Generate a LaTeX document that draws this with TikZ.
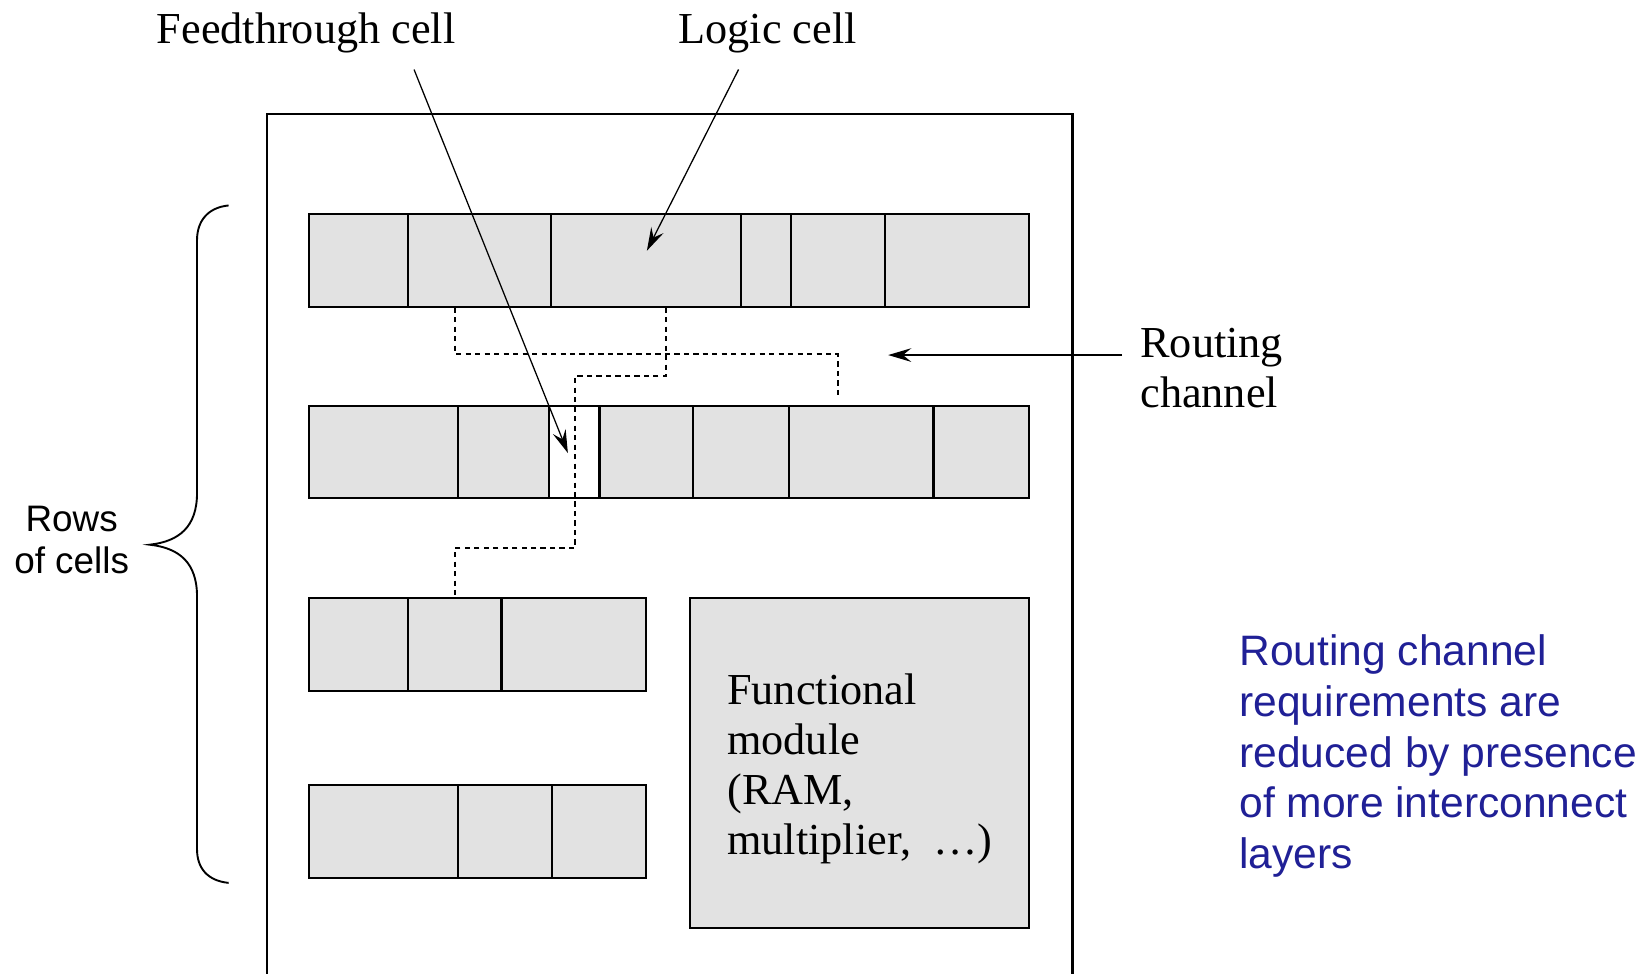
\documentclass[tikz,border=0pt]{standalone}
\usepackage{fontspec}
\setmainfont{Liberation Serif}
\setsansfont{Liberation Sans}
\usetikzlibrary{arrows.meta}
\definecolor{cellgray}{RGB}{226,226,226}
\definecolor{noteblue}{RGB}{32,32,150}
\begin{document}
\begin{tikzpicture}[x=0.5pt, y=-0.5pt,
  cell/.style = {draw, fill=cellgray, line width=1pt, inner sep=0pt, minimum height=44pt},
  wire/.style = {line width=0.9pt, dash pattern=on 2.5pt off 2pt},
  pointer/.style = {-{Stealth[length=11pt,width=6.5pt,inset=4pt]}, line width=0.6pt},
  caption/.style = {font=\fontsize{21}{23.75}\selectfont, inner sep=0pt, align=left},
  note/.style = {font=\sffamily\fontsize{20.2}{24.1}\selectfont, text=noteblue, align=left, inner sep=0pt}]
  \useasboundingbox (0,0) rectangle (1568,924);
  \draw[line width=1pt] (253,924) -- (253,108) -- (1018,108) -- (1018,924);
  \foreach \a/\b [count=\i] in {293/387,387/523,523/703,703/751,751/840,840/977}
    \node[cell, minimum width={(\b-\a)*0.5pt}] (r1c\i) at ({(\a+\b)/2},247) {};
  \foreach \a/\b/\c [count=\i] in {293/435/cellgray,435/521/cellgray,521/569/white,569/658/cellgray,658/749/cellgray,749/886/cellgray,886/977/cellgray}
    \node[cell, fill=\c, minimum width={(\b-\a)*0.5pt}] (r2c\i) at ({(\a+\b)/2},429) {};
  \foreach \a/\b [count=\i] in {293/387,387/476,476/613}
    \node[cell, minimum width={(\b-\a)*0.5pt}] (r3c\i) at ({(\a+\b)/2},612) {};
  \foreach \a/\b [count=\i] in {293/435,435/524,524/613}
    \node[cell, minimum width={(\b-\a)*0.5pt}] (r4c\i) at ({(\a+\b)/2},789) {};
  \node[cell, minimum width=161pt, minimum height=156.5pt, align=left,
        font=\fontsize{21}{23.75}\selectfont] (fmod) at (816,724.5)
        {\rule{0pt}{20pt}Functional\\module\\(RAM,\\multiplier, \ \ldots)};
  \coordinate (wireend) at (795,378);
  \draw[wire] (r1c2.south -| 432,0) |- (795,336) -- (wireend);
  \draw[wire] (r1c3.south -| 632,0) |- (546,357) |- (432,520) -- (r3c2.north -| 432,0);
  \node[caption, anchor=base] (feedlbl) at (290.5,41) {Feedthrough cell};
  \node[caption, anchor=base] (logiclbl) at (728.5,41) {Logic cell};
  \node[caption, anchor=north west] (routelbl) at (1082,311) {Routing\\channel};
  \coordinate (feedtail) at (393,66);
  \coordinate (feedtip) at (539,430);
  \coordinate (logictail) at (701,66);
  \coordinate (logictip) at (614,238);
  \coordinate (routetail) at (1065,337);
  \coordinate (routetip) at (843,337);
  \draw[pointer] (feedtail) -- (feedtip);
  \draw[pointer] (logictail) -- (logictip);
  \draw[pointer] (routetail) -- (routetip);
  \draw[line width=0.9pt] (217,195) .. controls (197,197) and (187,210) .. (187,228) -- (187,468)
    .. controls (187,500) and (170,514) .. (142,517) .. controls (170,520) and (187,534) .. (187,566)
    -- (187,806) .. controls (187,824) and (197,836) .. (217,838);
  \node[font=\sffamily\fontsize{17.5}{20}\selectfont, align=center, inner sep=0pt] (rowslbl) at (68,512.5) {Rows\\of cells};
  \node[note, anchor=north west] (notelbl) at (1176,602) {Routing channel\\requirements are\\reduced by presence\\of more interconnect\\layers};
\end{tikzpicture}
\end{document}
